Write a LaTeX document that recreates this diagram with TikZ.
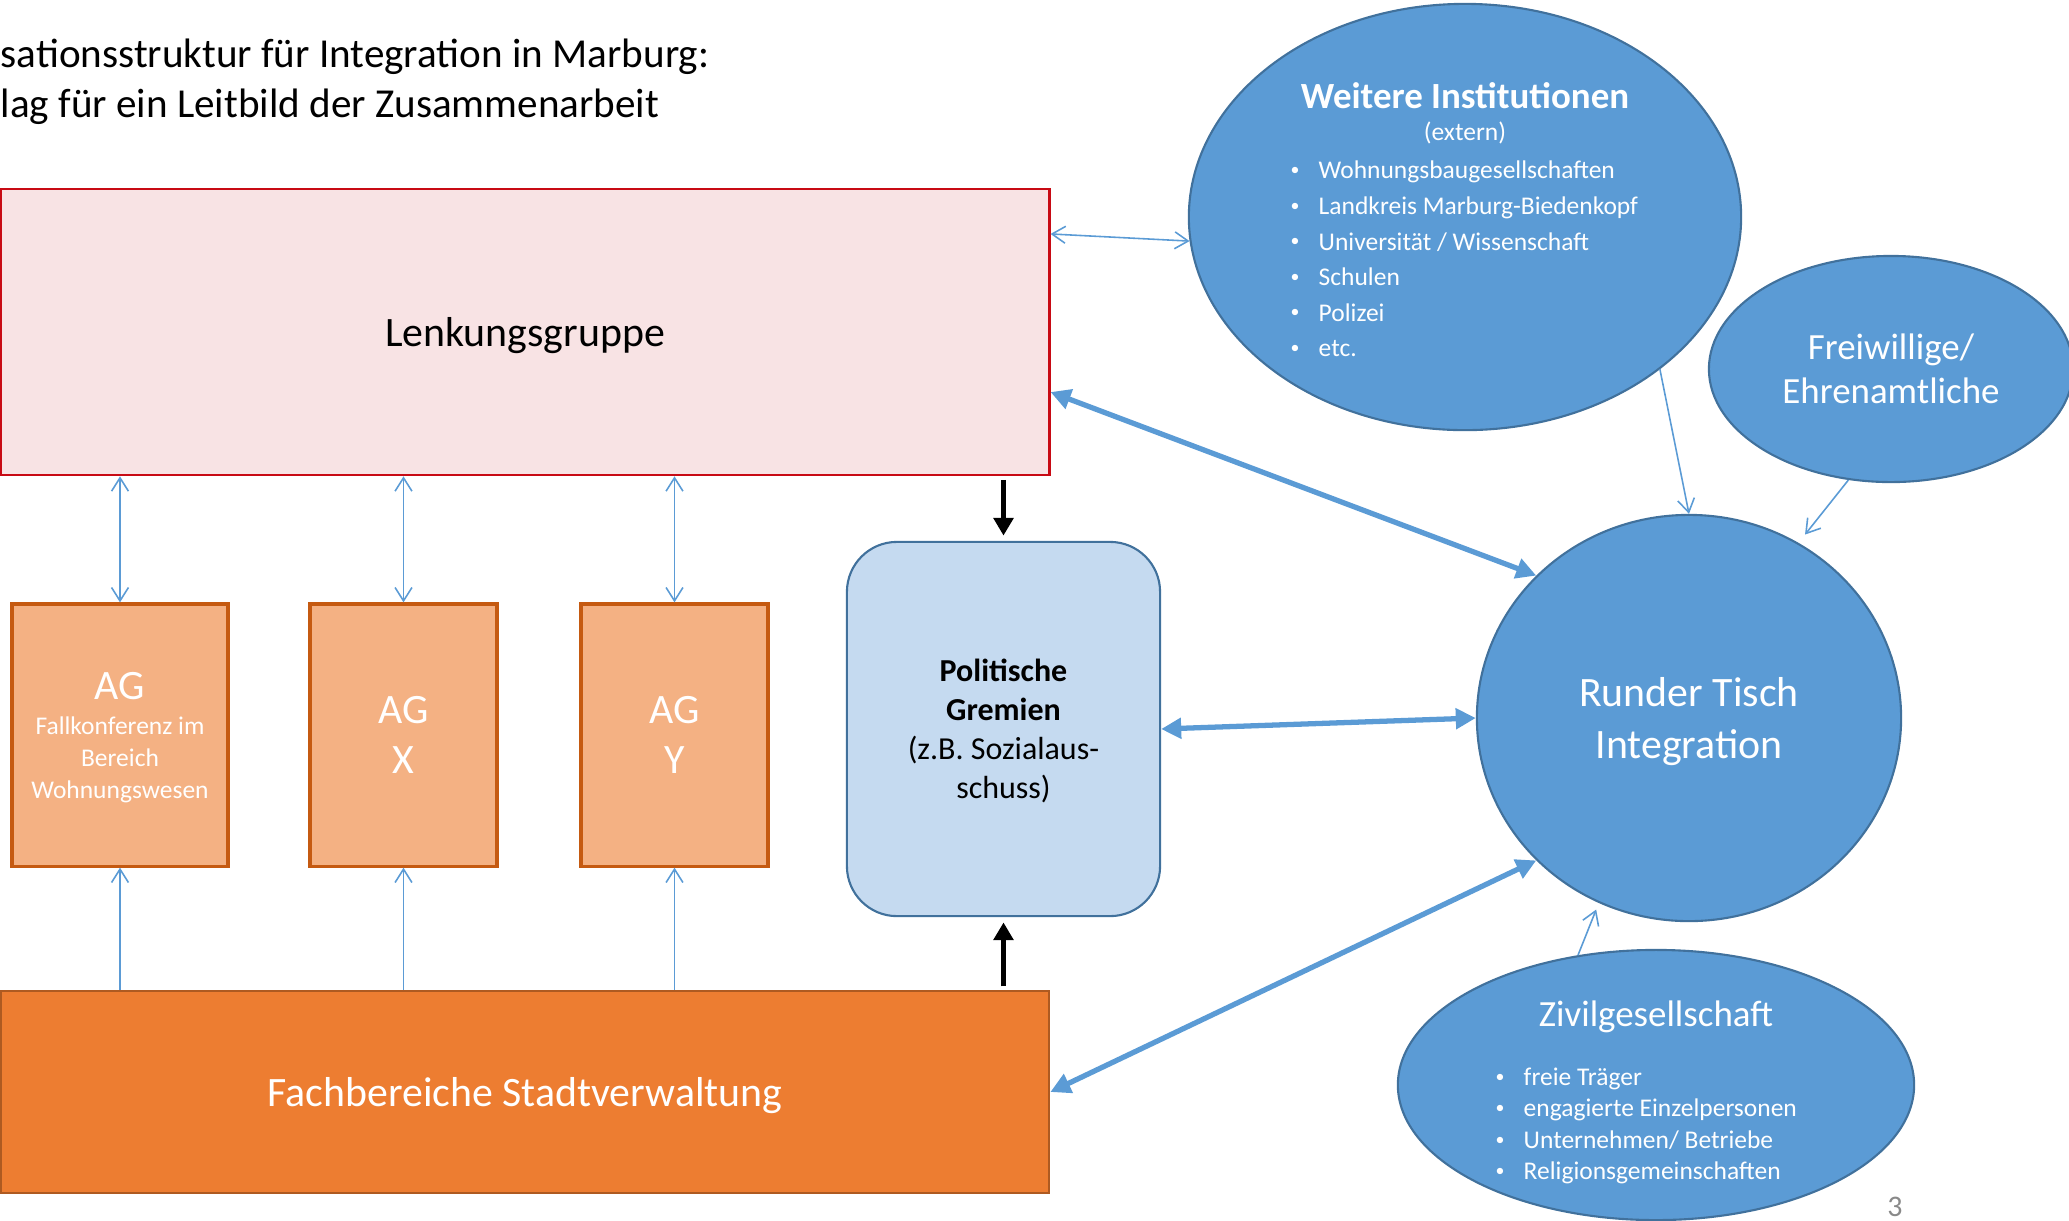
\documentclass[tikz,border=0pt]{standalone}
\usepackage{fontspec}
\setmainfont{Carlito}
\usetikzlibrary{arrows.meta, shapes.geometric}

\definecolor{boxpink}{RGB}{248,227,228}
\definecolor{boxred}{RGB}{200,10,20}
\definecolor{agfill}{RGB}{244,177,131}
\definecolor{agline}{RGB}{197,90,17}
\definecolor{fbfill}{RGB}{237,125,49}
\definecolor{fbline}{RGB}{174,90,33}
\definecolor{polfill}{RGB}{197,218,240}
\definecolor{blueline}{RGB}{65,113,156}
\definecolor{bluefill}{RGB}{91,155,213}
\definecolor{pagegray}{RGB}{137,137,137}

\newcommand{\listdot}{\makebox[0.28cm][l]{\raisebox{0.25ex}{\scalebox{0.7}{\textbullet}}}}
\newcommand{\agsub}{\fontsize{7.25}{8.9}\selectfont}

\tikzset{
  box/.style={rectangle, inner sep=0pt, align=center, text depth=0pt},
  lenkbox/.style={box, draw=boxred, fill=boxpink, line width=0.7pt,
    minimum width=10.48cm, minimum height=2.86cm,
    font=\fontsize{11.9}{14.2}\selectfont},
  agbox/.style={box, draw=agline, fill=agfill, line width=0.9pt,
    minimum height=2.62cm, text=white,
    font=\fontsize{11.9}{14.2}\selectfont},
  fbbox/.style={box, draw=fbline, fill=fbfill, line width=0.6pt,
    minimum width=10.48cm, minimum height=2.02cm, text=white,
    font=\fontsize{11.9}{14.2}\selectfont},
  polbox/.style={box, draw=blueline, fill=polfill, line width=0.6pt,
    rounded corners=0.5cm, minimum width=3.13cm, minimum height=3.74cm,
    font=\fontsize{9.1}{11.1}\selectfont},
  blob/.style={ellipse, draw=blueline, fill=bluefill, line width=0.6pt,
    inner sep=0pt, align=center, text=white},
  listtext/.style={inner sep=0pt, align=left, text=white,
    font=\fontsize{7.25}{10.1}\selectfont},
  thinboth/.style={draw=bluefill, line width=0.45pt,
    >={Straight Barb[length=3.8pt,width=4.8pt]}, <->},
  thinone/.style={draw=bluefill, line width=0.45pt,
    >={Straight Barb[length=3.8pt,width=4.8pt]}, ->},
  thickboth/.style={draw=bluefill, line width=1.5pt,
    >={Triangle[length=5.7pt,width=5.7pt]}, <->},
  blackarrow/.style={draw=black, line width=1.4pt,
    >={Triangle[length=5pt,width=5.5pt]}, ->, shorten <=1pt, shorten >=1.5pt}
}

\begin{document}
\begin{tikzpicture}[x=0.01cm, y=-0.01cm]
\useasboundingbox (0,0) rectangle (2069,1220);

% --- Title (cut at the left edge) ---
\node[inner sep=0pt, anchor=west, align=left,
  font=\fontsize{11.7}{14.2}\selectfont] (title) at (0,82)
  {sationsstruktur für Integration in Marburg:\\lag für ein Leitbild der Zusammenarbeit};

% --- Boxes on the left ---
\node[lenkbox] (lenkung) at (525,332) {Lenkungsgruppe};
\node[fbbox] (fach) at (525,1092) {Fachbereiche Stadtverwaltung};

\node[agbox, minimum width=2.16cm, text depth=-6pt] (ag1) at (120,735)
  {AG\\[-4pt]\agsub Fallkonferenz im\\[-5.2pt]\agsub Bereich\\[-5.2pt]\agsub Wohnungswesen};
\node[agbox, minimum width=1.87cm] (agx) at (403.5,735) {AG\\X};
\node[agbox, minimum width=1.87cm] (agy) at (674.5,735) {AG\\Y};

\node[polbox] (polit) at (1003.5,729)
  {\textbf{Politische}\\\textbf{Gremien}\\(z.B. Sozialaus-\\schuss)};

% --- Ellipses on the right ---
\node[blob, minimum width=5.52cm, minimum height=4.26cm] (weitere) at (1465,217) {};
\node[inner sep=0pt, text=white, font=\fontsize{10.5}{12}\selectfont\bfseries]
  (weiteretitle) at (1465,96) {Weitere Institutionen};
\node[inner sep=0pt, text=white, font=\fontsize{7.25}{9}\selectfont]
  (extern) at (1465,133) {(extern)};
\node[listtext, anchor=west] (weiterelist) at (1290,259)
  {\listdot Wohnungsbaugesellschaften\\
   \listdot Landkreis Marburg-Biedenkopf\\
   \listdot Universität / Wissenschaft\\
   \listdot Schulen\\
   \listdot Polizei\\
   \listdot etc.};

\node[blob, minimum width=3.64cm, minimum height=2.26cm,
  font=\fontsize{10.5}{12.4}\selectfont] (frei) at (1891,369)
  {Freiwillige/\\Ehrenamtliche};

\node[blob, minimum width=4.24cm, minimum height=4.06cm, text depth=0pt,
  font=\fontsize{11.9}{14.6}\selectfont] (runder) at (1689,718)
  {Runder Tisch\\Integration};

\node[blob, minimum width=5.16cm, minimum height=2.70cm] (zivil) at (1656,1085) {};
\node[inner sep=0pt, text=white, font=\fontsize{10.5}{12}\selectfont]
  (ziviltitle) at (1656,1017) {Zivilgesellschaft};
\node[listtext, anchor=west, font=\fontsize{7.25}{8.9}\selectfont] (zivillist) at (1495,1126)
  {\listdot freie Träger\\
   \listdot engagierte Einzelpersonen\\
   \listdot Unternehmen/ Betriebe\\
   \listdot Religionsgemeinschaften};

\node[inner sep=0pt, text=pagegray, font=\fontsize{8.5}{10}\selectfont] (page) at (1895,1207) {3};

% --- Thin links ---
\foreach \ag in {ag1, agx, agy} {
  \draw[thinboth] (\ag.north |- lenkung.south) -- (\ag.north);
  \draw[thinone] (\ag.south |- fach.north) -- (\ag.south);
}
\draw[thinboth] ([yshift=0.98cm]lenkung.east) -- (weitere.185);
\draw[thinone] (weitere.-38) -- (runder.north);
\draw[thinone, shorten >=3pt] (frei.249) -- (runder.58);
\draw[thinone, shorten >=2pt] (zivil.121) -- (runder.244);

% --- Black arrows to the committees ---
\draw[blackarrow] (polit.north |- lenkung.south) -- (polit.north);
\draw[blackarrow] (polit.south |- fach.north) -- (polit.south);

% --- Thick links to the round table ---
\draw[thickboth] ([yshift=-0.6cm]lenkung.east) -- (runder.137);
\draw[thickboth] (polit.east) -- (runder.west);
\draw[thickboth] (fach.east) -- (runder.223);

\end{tikzpicture}
\end{document}
